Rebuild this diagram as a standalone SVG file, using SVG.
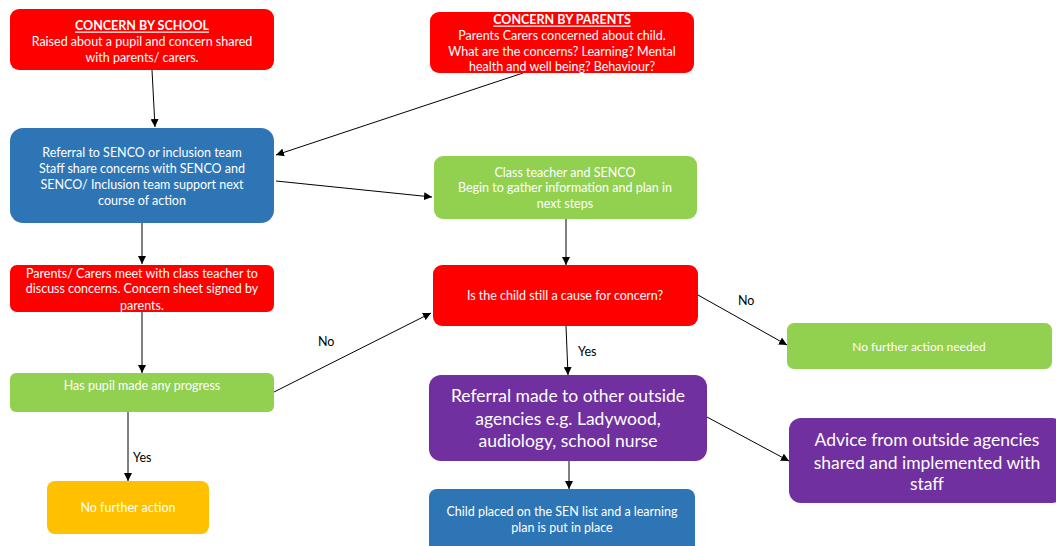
<svg xmlns="http://www.w3.org/2000/svg" width="1056" height="546" viewBox="0 0 1056 546">
<defs>
<marker id="ah" viewBox="0 0 10 10" refX="10" refY="5" markerWidth="8" markerHeight="8" markerUnits="userSpaceOnUse" orient="auto">
<path d="M0,0 L10,5 L0,10 z" fill="#000"/>
</marker>
<style>
.n text{font-family:Lato,"Liberation Sans",sans-serif;fill:#fff;text-anchor:middle;dominant-baseline:central;font-size:12.5px}
.big text{font-size:17.5px}
.sm text{font-size:12px}
.t{font-weight:bold;text-decoration:underline}
.red{fill:#FF0000}.blue{fill:#2E75B6}.green{fill:#92D050}.purple{fill:#7030A0}.orange{fill:#FFC000}
#edges line{stroke:#000;stroke-width:1;marker-end:url(#ah)}
.lbl{font-family:Lato,"Liberation Sans",sans-serif;font-size:12.5px;fill:#000;dominant-baseline:central}
</style>
</defs>
<rect width="1056" height="546" fill="#fff"/>
<g id="edges">
<line x1="152" y1="70" x2="155" y2="127"/>
<line x1="523" y1="73" x2="276" y2="155"/>
<line x1="276" y1="181" x2="432" y2="197"/>
<line x1="566" y1="219" x2="566" y2="265"/>
<line x1="142" y1="223" x2="142" y2="264"/>
<line x1="142" y1="312" x2="142" y2="373"/>
<line x1="128" y1="412" x2="128" y2="481"/>
<line x1="274" y1="392" x2="431" y2="313"/>
<line x1="698" y1="295" x2="787" y2="345"/>
<line x1="566" y1="326" x2="568" y2="375"/>
<line x1="707" y1="417" x2="789" y2="461"/>
<line x1="569" y1="461" x2="569" y2="489"/>
<text class="lbl" x="318" y="341">No</text>
<text class="lbl" x="133" y="457">Yes</text>
<text class="lbl" x="578" y="351">Yes</text>
<text class="lbl" x="738" y="300">No</text>
</g>
<g id="concern-school" class="n">
<rect class="red" x="10" y="9" width="264" height="61" rx="9"/>
<text class="t" x="142" y="25">CONCERN BY SCHOOL</text>
<text x="142" y="41">Raised about a pupil and concern shared</text>
<text x="142" y="57">with parents/ carers.</text>
</g>
<g id="concern-parents" class="n">
<rect class="red" x="430" y="12" width="264" height="61" rx="9"/>
<text class="t" x="562" y="19">CONCERN BY PARENTS</text>
<text x="562" y="35">Parents Carers concerned about child.</text>
<text x="562" y="51">What are the concerns? Learning? Mental</text>
<text x="562" y="66">health and well being? Behaviour?</text>
</g>
<g id="referral-senco" class="n">
<rect class="blue" x="10" y="128" width="264" height="95" rx="13"/>
<text x="142" y="152">Referral to SENCO or inclusion team</text>
<text x="142" y="168">Staff share concerns with SENCO and</text>
<text x="142" y="184">SENCO/ Inclusion team support next</text>
<text x="142" y="200">course of action</text>
</g>
<g id="class-teacher" class="n">
<rect class="green" x="434" y="156" width="263" height="63" rx="9"/>
<text x="565" y="172">Class teacher and SENCO</text>
<text x="565" y="187">Begin to gather information and plan in</text>
<text x="565" y="203">next steps</text>
</g>
<g id="parents-meet" class="n">
<rect class="red" x="10" y="265" width="264" height="47" rx="7"/>
<text x="142" y="273">Parents/ Carers meet with class teacher to</text>
<text x="142" y="288">discuss concerns. Concern sheet signed by</text>
<text x="142" y="305">parents.</text>
</g>
<g id="progress" class="n">
<rect class="green" x="10" y="373" width="264" height="39" rx="6"/>
<text x="142" y="385">Has pupil made any progress</text>
</g>
<g id="no-further-action" class="n">
<rect class="orange" x="47" y="481" width="162" height="53" rx="8"/>
<text x="128" y="507">No further action</text>
</g>
<g id="still-concern" class="n">
<rect class="red" x="433" y="265" width="265" height="61" rx="9"/>
<text x="565" y="295">Is the child still a cause for concern?</text>
</g>
<g id="no-further-action-needed" class="n sm">
<rect class="green" x="787" y="323" width="265" height="46" rx="7"/>
<text x="919" y="346">No further action needed</text>
</g>
<g id="referral-outside" class="n big">
<rect class="purple" x="429" y="375" width="278" height="86" rx="12"/>
<text x="568" y="395">Referral made to other outside</text>
<text x="568" y="418">agencies e.g. Ladywood,</text>
<text x="568" y="440">audiology, school nurse</text>
</g>
<g id="advice" class="n big">
<rect class="purple" x="789" y="418" width="275" height="85" rx="12"/>
<text x="927" y="439">Advice from outside agencies</text>
<text x="927" y="462">shared and implemented with</text>
<text x="927" y="483">staff</text>
</g>
<g id="sen-list" class="n">
<rect class="blue" x="429" y="489" width="266" height="65" rx="8"/>
<text x="562" y="511">Child placed on the SEN list and a learning</text>
<text x="562" y="527">plan is put in place</text>
</g>
</svg>
